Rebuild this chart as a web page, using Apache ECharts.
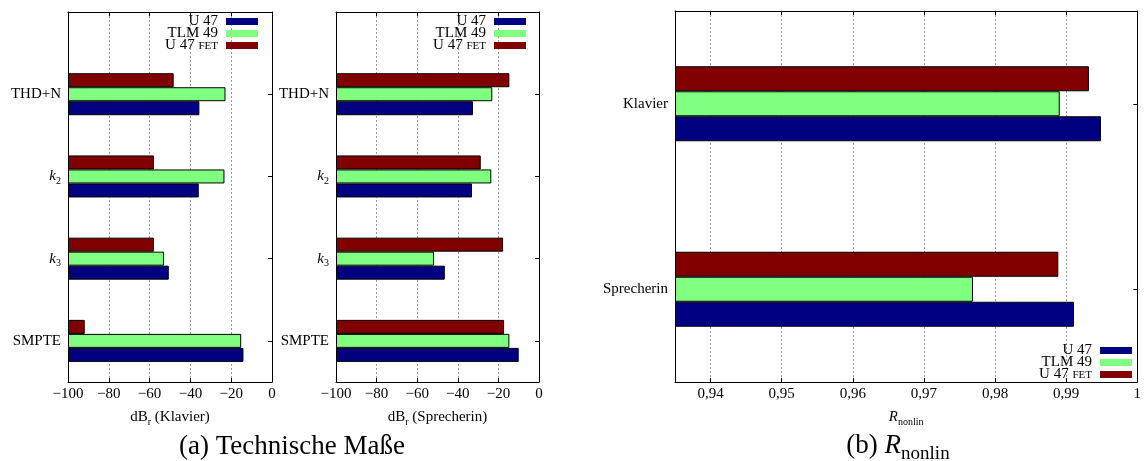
<!DOCTYPE html>
<html><head><meta charset="utf-8">
<script src="https://cdn.jsdelivr.net/npm/echarts@6/dist/echarts.min.js"></script>
<style>html,body{margin:0;padding:0;background:#fff}#c{width:1144px;height:461px}</style>
</head><body><div id="c"></div>
<script>
// ---------- data ----------
const seriesNames = ['U 47', 'TLM 49', 'U 47 FET'];
const measureCategories = ['THD+N', 'k2', 'k3', 'SMPTE'];
const klavierU47 = [-35.6, -35.9, -50.6, -14.0];
const klavierTLM49 = [-22.8, -23.3, -52.9, -15.1];
const klavierU47FET = [-48.2, -57.9, -57.9, -91.8];
const sprecherinU47 = [-32.5, -33.0, -46.4, -10.0];
const sprecherinTLM49 = [-23.0, -23.5, -51.7, -14.6];
const sprecherinU47FET = [-14.6, -28.7, -17.7, -17.2];
const dbMin = -100, dbMax = 0, dbStep = 20;
const rCategories = ['Klavier', 'Sprecherin'];
const rU47 = [0.9949, 0.9911];
const rTLM49 = [0.9891, 0.9769];
const rU47FET = [0.9932, 0.9889];
const rMin = 0.935, rMax = 1.0;
const captionA = '(a) Technische Maße';
const axisNameKlavier = 'dB{sub|r} (Klavier)';
const axisNameSprecherin = 'dB{sub|r} (Sprecherin)';
const axisNameR = '{it|R}{sub|nonlin}';
const captionB = '(b) {it|R}{sub|nonlin}';

// ---------- styling ----------
const FONT = 'Liberation Serif';
const TXT = '#000';
const colors = {'U 47': '#000080', 'TLM 49': '#80ff80', 'U 47 FET': '#800000'};

// category slots: half-unit steps so the frame spans from 1 unit above THD+N to 0.5 below SMPTE
const slotCats = ['_a', '_b'];
measureCategories.forEach((c, i) => { slotCats.push(c); slotCats.push('_' + i); });
function toSlots(arr) { const out = ['-', '-']; arr.forEach(v => { out.push(v); out.push('-'); }); return out; }
const isReal = (i, v) => String(v).charAt(0) !== '_';

const subRich = {
  it: {fontStyle: 'italic', fontFamily: FONT, fontSize: 15, color: TXT},
  sub: {fontSize: 10, fontFamily: FONT, color: TXT, lineHeight: 10, verticalAlign: 'bottom'}
};
function catLabel(v) {
  if (!isReal(0, v)) return '';
  const m = /^k(\d)$/.exec(v);
  return m ? '{it|k}{sub|' + m[1] + '}' : v;
}
const dbFmt = v => v < 0 ? '\u2212' + Math.abs(v) : String(v);
const rFmt = v => { const s = Math.round(v * 100) / 100; return s === 1 ? '1' : s.toFixed(2).replace('.', ','); };

const grids = [
  {left: 68, top: 12, width: 204, height: 370},
  {left: 336, top: 12, width: 203, height: 370},
  {left: 675, top: 11, width: 470, height: 371}
];

const blackLine = {show: true, onZero: false, lineStyle: {color: '#000', width: 1}};
function xAxes(gi, min, max, interval, fmt, name, nameGap) {
  const base = {gridIndex: gi, type: 'value', min, max, startValue: min};
  if (interval) base.interval = interval;
  return [
    Object.assign({}, base, {
      position: 'bottom', axisLine: blackLine,
      axisTick: {show: true, inside: true, length: 4, lineStyle: {color: '#000'}},
      axisLabel: {show: true, margin: 5, formatter: fmt, fontFamily: FONT, fontSize: 15, color: TXT, showMinLabel: interval ? true : false},
      splitLine: {show: true, lineStyle: {color: '#9a9a9a', type: [2, 2], width: 1}},
      name, nameLocation: 'middle', nameGap,
      nameTextStyle: {fontFamily: FONT, fontSize: 15, color: TXT, lineHeight: 20, rich: subRich}
    }),
    Object.assign({}, base, {
      position: 'top', axisLine: blackLine,
      axisTick: {show: true, inside: true, length: 4, lineStyle: {color: '#000'}},
      axisLabel: {show: false}, splitLine: {show: false}
    })
  ];
}
function yAxes(gi, data, slots) {
  const base = {gridIndex: gi, type: 'category', data, inverse: true, boundaryGap: !slots};
  const tick = {show: true, inside: true, length: 4, lineStyle: {color: '#000'}};
  if (slots) tick.interval = isReal; else tick.alignWithLabel = true;
  return [
    Object.assign({}, base, {
      position: 'left', axisLine: blackLine, axisTick: tick,
      axisLabel: {show: true, interval: slots ? isReal : 0, margin: 7, formatter: catLabel,
        fontFamily: FONT, fontSize: 15, color: TXT, lineHeight: 20, rich: subRich},
      splitLine: {show: false}
    }),
    Object.assign({}, base, {
      position: 'right', axisLine: blackLine, axisTick: tick,
      axisLabel: {show: false}, splitLine: {show: false}
    })
  ];
}

function bar(gi, name, data, barWidth) {
  return {type: 'bar', name, xAxisIndex: gi * 2, yAxisIndex: gi * 2, data, barWidth, barGap: '0%',
    itemStyle: {color: colors[name], borderColor: '#000', borderWidth: 1}, silent: true};
}

function legend(right, top) {
  return {orient: 'vertical', right, top, align: 'right', padding: 0, itemGap: -3,
    itemWidth: 32, itemHeight: 7, icon: 'rect', data: seriesNames, selectedMode: false,
    itemStyle: {borderWidth: 0},
    textStyle: {fontFamily: FONT, fontSize: 15, color: TXT, lineHeight: 12, padding: [0, 3, 0, 0],
      rich: {sc: {fontFamily: FONT, fontSize: 11, color: TXT, lineHeight: 9, verticalAlign: 'bottom'}}},
    formatter: n => / FET$/.test(n) ? n.replace(/ FET$/, ' {sc|FET}') : n};
}

const order = ['U 47 FET', 'TLM 49', 'U 47']; // first series drawn on top of each group
const klav = {'U 47': klavierU47, 'TLM 49': klavierTLM49, 'U 47 FET': klavierU47FET};
const spre = {'U 47': sprecherinU47, 'TLM 49': sprecherinTLM49, 'U 47 FET': sprecherinU47FET};
const rv = {'U 47': rU47, 'TLM 49': rTLM49, 'U 47 FET': rU47FET};

const series = [];
order.forEach(n => series.push(bar(0, n, toSlots(klav[n]), 14)));
order.forEach(n => series.push(bar(1, n, toSlots(spre[n]), 14)));
order.forEach(n => series.push(bar(2, n, rv[n], 25)));

const option = {
  animation: false,
  backgroundColor: '#fff',
  grid: grids,
  xAxis: [].concat(
    xAxes(0, dbMin, dbMax, dbStep, dbFmt, axisNameKlavier, 13),
    xAxes(1, dbMin, dbMax, dbStep, dbFmt, axisNameSprecherin, 13),
    xAxes(2, rMin, rMax, null, rFmt, axisNameR, 11)
  ),
  yAxis: [].concat(yAxes(0, slotCats, true), yAxes(1, slotCats, true), yAxes(2, rCategories, false)),
  legend: [legend(886, 14), legend(618, 14), legend(12, 343)],
  series,
  graphic: [
    {type: 'text', x: 292, y: 447, silent: true,
      style: {text: captionA, fontFamily: FONT, fontSize: 27, fill: TXT, align: 'center', verticalAlign: 'middle'}},
    {type: 'text', x: 898, y: 446, silent: true,
      style: {text: captionB, fontFamily: FONT, fontSize: 27, fill: TXT, align: 'center', verticalAlign: 'middle', lineHeight: 36,
        rich: {it: {fontFamily: FONT, fontSize: 27, fontStyle: 'italic', fill: TXT, lineHeight: 36},
               sub: {fontFamily: FONT, fontSize: 19, fill: TXT, lineHeight: 19, verticalAlign: 'bottom'}}}}
  ]
};
const chart = echarts.init(document.getElementById('c'), null, {renderer: 'canvas'});
chart.setOption(option);
</script></body></html>
